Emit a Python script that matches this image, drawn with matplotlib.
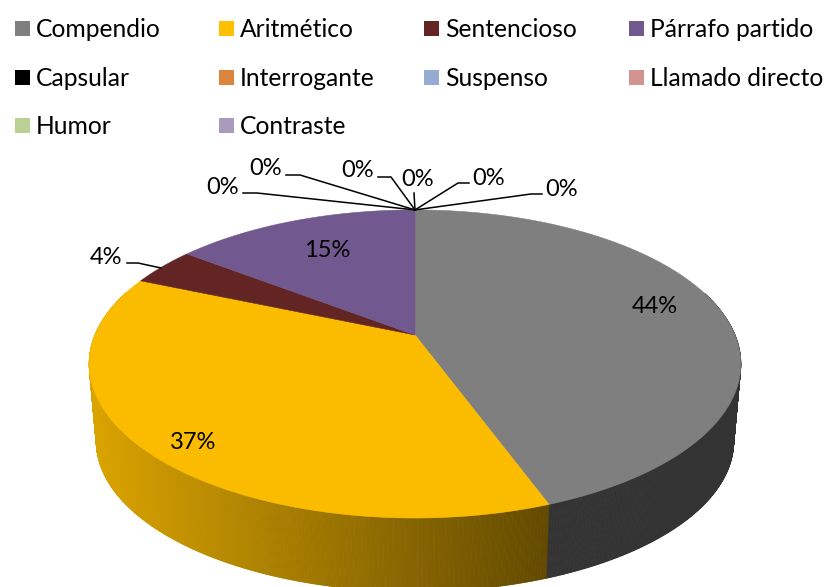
import numpy as np
import matplotlib
matplotlib.use("Agg")
import matplotlib.pyplot as plt
from matplotlib.collections import PolyCollection
from matplotlib.patches import Polygon, Rectangle

plt.rcParams['font.family'] = ['Lato', 'DejaVu Sans']

# --- Datos ---
categories = ['Compendio', 'Aritmético', 'Sentencioso', 'Párrafo partido',
              'Capsular', 'Interrogante', 'Suspenso', 'Llamado directo',
              'Humor', 'Contraste']
values = [44.4, 37.0, 4.0, 14.6, 0, 0, 0, 0, 0, 0]
pct_labels = ['44%', '37%', '4%', '15%', '0%', '0%', '0%', '0%', '0%', '0%']
legend_colors = ['#7F7F7F', '#FFC000', '#632523', '#71588F', '#000000',
                 '#DD843C', '#95ABD1', '#D39391', '#BBD094', '#A99BBD']
top_colors = ['#7F7F7F', '#FBBC00', '#632523', '#71588F', '#000000',
              '#DD843C', '#95ABD1', '#D39391', '#BBD094', '#A99BBD']

# sombreado del lateral (izquierda, derecha)
side_shades = [(0.40, 0.40), (0.87, 0.39), (0.6, 0.4), (0.6, 0.4), (0.6, 0.4),
               (0.6, 0.4), (0.6, 0.4), (0.6, 0.4), (0.6, 0.4), (0.6, 0.4)]

# --- Proyección del disco (píxeles de la imagen) ---
CX, TOP_Y, BOT_Y = 415, 335, 413
K = 0.188


def project(theta, apex_y, bx, by):
    """theta en grados, horario desde arriba."""
    t = np.radians(theta)
    X, Y = np.sin(t), np.cos(t)
    d = 1 + K * Y
    return CX + bx * X / d, apex_y - by * Y / d


def top_rim(theta):
    return project(theta, TOP_Y, 320, 148.6)


def bot_rim(theta):
    return project(theta, BOT_Y, 313, 145)


fig = plt.figure(figsize=(8.29, 5.87), dpi=100)
ax = fig.add_axes([0, 0, 1, 1])
ax.set_xlim(0, 829)
ax.set_ylim(587, 0)
ax.axis('off')

angles = 360 * np.cumsum([0] + values) / sum(values)

# --- Lateral ---
for i in range(len(values)):
    if values[i] == 0:
        continue
    th = np.arange(angles[i], angles[i + 1] + 0.25, 0.25)
    th[-1] = min(th[-1], angles[i + 1])
    tx, ty = top_rim(th)
    bx, by = bot_rim(th)
    polys, cols = [], []
    rgb = np.array(matplotlib.colors.to_rgb(top_colors[i]))
    x0, x1 = tx.min(), tx.max()
    for j in range(len(th) - 1):
        if np.cos(np.radians(th[j])) > 0.3:
            continue
        polys.append([(tx[j], ty[j]), (tx[j + 1], ty[j + 1]),
                      (bx[j + 1], by[j + 1]), (bx[j], by[j])])
        f = (tx[j] - x0) / max(x1 - x0, 1)
        shade = side_shades[i][0] + (side_shades[i][1] - side_shades[i][0]) * f
        cols.append(tuple(rgb * shade))
    ax.add_collection(PolyCollection(polys, facecolors=cols, edgecolors=cols,
                                     linewidths=0.6, zorder=1))

# --- Cara superior ---
for i in range(len(values)):
    if values[i] == 0:
        continue
    th = np.linspace(angles[i], angles[i + 1], 200)
    tx, ty = top_rim(th)
    pts = [(CX, TOP_Y)] + list(zip(tx, ty))
    ax.add_patch(Polygon(pts, closed=True, facecolor=top_colors[i],
                         edgecolor=top_colors[i], linewidth=0.4, zorder=2))

# --- Etiquetas de porcentaje ---
FS = 17
FS_LEG = 17.7
DY = 1.5
inner_pos = {0: (655, 305), 1: (193, 441), 3: (327, 249)}
for i, p in inner_pos.items():
    ax.text(p[0], p[1] + DY, pct_labels[i], fontsize=FS, ha='center', va='center', zorder=5)

# etiqueta 4% con guía
ax.text(106, 256 + DY, pct_labels[2], fontsize=FS, ha='center', va='center', zorder=5)
ax.plot([127, 138, 161], [263, 263, 268], color='black', lw=1.1, zorder=4)

# etiquetas 0% con guías
apex = top_rim(0)
zero_text = [(223, 186), (266, 167), (358, 169), (418, 178), (489, 177), (562, 188)]
zero_lines = [[(243, 193), (257, 193)], [(286, 175), (300, 175)], [(378, 177), (391, 177)],
              [(414, 193)], [(469, 183), (458, 183)], [(542, 194), (531, 194)]]
for i, (p, line) in enumerate(zip(zero_text, zero_lines)):
    ax.text(p[0], p[1] + DY, pct_labels[4 + i], fontsize=FS, ha='center', va='center', zorder=5)
    pts = line + [apex]
    ax.plot([q[0] for q in pts], [q[1] for q in pts], color='black', lw=1.1, zorder=4)

# --- Leyenda ---
col_x = [15, 219, 424, 629]
row_y = [28, 77, 125]
for i, name in enumerate(categories):
    x = col_x[i % 4]
    y = row_y[i // 4]
    ax.add_patch(Rectangle((x, y - 7.5), 15, 15, facecolor=legend_colors[i],
                           edgecolor='none', zorder=5))
    ax.text(x + 21, y + DY, name, fontsize=FS_LEG, ha='left', va='center', zorder=5)

fig.savefig('out.png', dpi=100)
